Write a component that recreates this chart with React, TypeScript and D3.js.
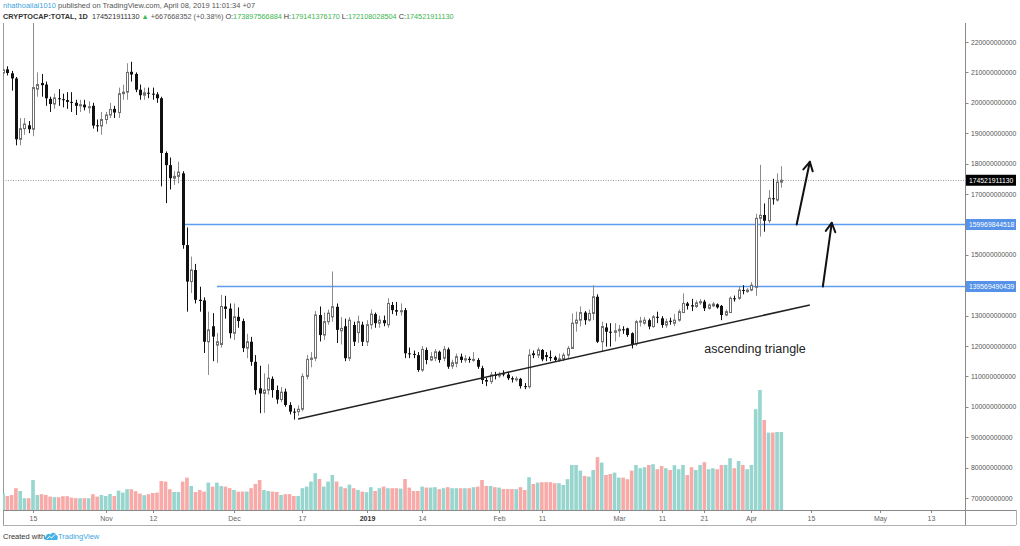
import React from "react";
import * as d3 from "d3";

const W = 1020;
const H = 546;
const FONT = "'Liberation Sans', Arial, sans-serif";

// ---- data (prices in billions USD, one candle per day starting 2018-10-08) ----
const firstDay = Date.UTC(2018, 9, 8);
const DAY = 86400000;

const open = [
  // Oct 8-31
  209.8, 211.0, 209.7, 208.0, 188.0, 191.5, 192.6, 191.3, 204.5, 206.5, 206.0, 201.3, 199.6, 201.5, 201.2, 200.9, 200.3, 200.0, 199.0, 199.4, 198.5, 199.0, 192.6, 192.4,
  // Nov
  194.5, 196.0, 198.0, 196.8, 203.0, 203.5, 210.2, 209.5, 204.3, 202.5, 203.3, 203.0, 202.8, 201.5, 183.5, 179.5, 175.2, 175.8, 176.8, 153.2, 141.2, 145.0, 135.2, 135.0, 121.4, 126.5, 120.3, 120.5, 133.0, 132.3,
  // Dec
  124.2, 129.6, 128.2, 119.3, 121.4, 114.8, 106.1, 104.4, 105.5, 109.2, 105.5, 102.4, 105.0, 100.6, 98.4, 98.4, 99.2, 110.0, 115.6, 116.0, 130.2, 123.6, 128.0, 129.6, 132.9, 125.0, 126.5, 116.0, 126.9, 124.4, 127.0,
  // Jan
  121.4, 127.0, 130.5, 127.5, 128.5, 127.0, 133.5, 131.8, 131.3, 131.8, 117.6, 117.4, 117.0, 112.1, 118.7, 115.4, 116.0, 118.1, 116.0, 118.9, 113.4, 114.3, 116.5, 115.4, 115.8, 115.4, 115.4, 112.7, 108.8, 108.3, 110.5,
  // Feb
  110.2, 111.0, 110.6, 109.4, 109.0, 109.2, 106.8, 106.6, 117.6, 117.0, 118.7, 117.0, 116.4, 116.3, 115.4, 115.8, 117.0, 119.2, 127.5, 128.5, 131.0, 128.5, 130.7, 136.2, 121.4, 126.1, 124.7, 124.5,
  // Mar
  125.0, 125.5, 125.8, 124.2, 120.7, 128.0, 127.5, 128.5, 126.4, 129.6, 129.1, 126.9, 128.3, 127.5, 128.5, 131.0, 134.0, 133.4, 133.0, 134.2, 134.6, 132.4, 133.2, 133.7, 133.2, 130.2, 131.0, 135.7, 135.7, 138.4, 137.9,
  // Apr 1-8
  138.4, 139.3, 162.0, 163.1, 161.2, 168.6, 168.0, 173.9,
];

const high = [
  211.3, 212.0, 210.5, 208.5, 195.0, 195.0, 194.0, 227.0, 210.0, 209.5, 207.0, 202.0, 203.0, 204.5, 203.0, 203.5, 203.5, 201.0, 201.0, 201.0, 200.5, 200.0, 194.5, 197.0,
  197.0, 200.0, 199.0, 205.0, 206.0, 213.0, 213.5, 210.0, 206.0, 205.0, 205.0, 205.0, 203.5, 202.0, 184.0, 182.0, 177.5, 180.6, 177.5, 159.0, 149.4, 147.0, 139.5, 136.0, 131.3, 130.8, 124.3, 136.8, 136.5, 134.0,
  134.0, 132.7, 129.0, 124.0, 123.0, 117.0, 113.5, 111.0, 114.0, 110.0, 107.0, 106.5, 106.0, 101.5, 99.5, 100.5, 111.0, 117.0, 118.0, 131.5, 133.0, 131.0, 132.0, 144.5, 134.0, 129.5, 129.0, 129.5, 128.0, 130.0, 128.0,
  128.5, 132.0, 131.0, 130.0, 130.0, 135.7, 134.5, 134.5, 134.0, 132.5, 119.5, 118.5, 118.0, 120.0, 119.5, 118.0, 119.0, 118.5, 120.0, 119.5, 115.5, 117.5, 117.5, 117.0, 116.5, 118.0, 116.0, 113.5, 109.5, 111.5, 111.5,
  111.5, 112.0, 111.5, 110.0, 110.0, 109.5, 107.8, 119.0, 118.5, 119.5, 119.0, 118.0, 118.5, 116.8, 117.5, 117.8, 120.0, 130.7, 131.3, 133.0, 131.5, 132.0, 140.0, 137.0, 128.0, 127.5, 127.5, 127.5,
  126.9, 126.5, 126.0, 124.5, 128.6, 129.6, 129.5, 129.0, 130.2, 131.3, 129.8, 129.0, 129.3, 130.5, 132.0, 137.3, 134.5, 135.5, 135.0, 135.5, 135.2, 134.0, 134.5, 134.0, 133.5, 132.0, 136.3, 136.6, 139.5, 140.0, 139.0,
  141.0, 163.5, 179.6, 166.9, 171.3, 175.0, 176.8, 179.14,
];

const low = [
  207.5, 209.0, 204.0, 186.0, 186.0, 189.5, 190.0, 189.0, 202.0, 202.0, 199.0, 197.0, 198.0, 199.0, 198.5, 198.0, 197.0, 196.0, 197.0, 197.5, 196.5, 191.5, 190.5, 189.5,
  193.0, 195.0, 195.0, 195.0, 201.0, 201.0, 207.0, 203.5, 201.0, 201.0, 201.5, 201.0, 200.0, 172.5, 167.0, 171.5, 173.0, 173.5, 152.0, 131.3, 137.4, 134.0, 131.3, 117.7, 110.5, 115.0, 114.4, 119.5, 129.0, 122.5,
  122.0, 126.0, 118.0, 116.0, 113.5, 104.0, 97.9, 98.0, 104.0, 103.0, 101.0, 101.5, 100.0, 97.5, 95.8, 97.0, 98.5, 109.0, 113.0, 115.0, 121.5, 122.0, 127.0, 128.0, 121.0, 120.5, 115.0, 115.0, 120.0, 121.0, 120.0,
  120.0, 125.5, 126.0, 126.0, 126.5, 126.0, 130.5, 130.0, 130.0, 116.0, 116.0, 116.0, 111.5, 111.5, 114.0, 115.0, 115.0, 114.5, 115.0, 112.5, 112.5, 113.0, 114.5, 114.5, 114.5, 114.8, 112.5, 107.5, 106.8, 107.5, 109.0,
  109.5, 110.0, 108.8, 108.0, 108.3, 106.0, 105.8, 106.0, 116.0, 116.0, 115.0, 115.0, 115.0, 115.0, 114.8, 115.0, 116.0, 119.0, 124.7, 126.4, 127.0, 128.0, 128.5, 121.0, 118.2, 119.8, 119.8, 121.5,
  123.0, 124.0, 123.0, 119.2, 120.0, 126.4, 127.0, 125.5, 126.0, 127.5, 126.0, 126.0, 127.0, 126.5, 128.0, 131.0, 132.0, 131.5, 132.5, 133.5, 131.5, 132.0, 132.8, 132.3, 128.5, 129.8, 131.0, 134.6, 135.2, 137.0, 137.5,
  138.0, 136.5, 156.0, 157.6, 160.4, 166.5, 167.5, 172.11,
];

const close = [
  210.8, 209.8, 208.0, 188.0, 191.5, 193.0, 191.3, 205.0, 206.0, 205.8, 201.5, 199.6, 201.6, 201.2, 200.9, 200.3, 200.0, 199.0, 199.4, 198.5, 198.7, 192.5, 192.4, 194.5,
  196.0, 197.8, 196.8, 203.0, 203.5, 210.0, 209.3, 204.3, 202.5, 203.3, 203.0, 202.7, 201.5, 183.5, 179.5, 175.2, 175.8, 177.2, 153.2, 141.2, 145.0, 135.2, 134.8, 121.4, 125.3, 123.1, 121.4, 133.0, 132.2, 124.2,
  129.6, 128.2, 119.3, 121.4, 114.8, 105.5, 104.4, 105.5, 109.4, 105.5, 102.4, 104.8, 100.6, 98.4, 98.1, 99.2, 110.0, 115.6, 116.0, 130.2, 123.6, 128.0, 130.8, 132.9, 125.3, 125.8, 116.0, 128.5, 121.4, 128.0, 121.4,
  127.0, 130.5, 127.5, 128.5, 127.5, 134.0, 131.8, 131.3, 131.6, 117.6, 117.4, 117.3, 112.1, 118.9, 115.4, 116.5, 118.1, 115.4, 118.9, 113.2, 114.5, 116.5, 115.4, 115.8, 115.4, 115.6, 113.2, 108.8, 108.3, 110.5, 110.2,
  110.5, 110.6, 109.4, 109.0, 109.2, 106.8, 106.6, 117.0, 117.0, 118.7, 115.6, 116.4, 116.0, 115.4, 115.8, 117.0, 119.2, 127.5, 128.5, 131.0, 128.5, 130.7, 136.2, 121.4, 126.4, 124.7, 124.5, 125.0,
  125.5, 125.2, 123.6, 120.3, 128.0, 128.2, 128.5, 126.4, 129.6, 129.4, 126.9, 128.0, 128.0, 128.5, 131.3, 134.0, 133.2, 133.0, 134.2, 134.6, 132.4, 133.5, 133.8, 132.7, 130.2, 131.3, 135.7, 135.6, 138.4, 138.2, 138.4,
  140.0, 162.0, 163.0, 161.2, 168.6, 168.3, 173.9, 174.52,
];

// volume in billions USD
const volume = [
  8.4, 7.0, 7.5, 10.9, 9.5, 5.9, 5.9, 15.0, 7.5, 7.9, 7.5, 6.7, 6.4, 6.4, 6.9, 6.9, 6.2, 5.9, 5.9, 5.9, 5.9, 7.9, 6.7, 7.5,
  7.0, 8.0, 7.0, 9.7, 8.7, 10.4, 10.4, 9.4, 8.2, 7.4, 7.9, 8.5, 8.7, 14.5, 14.2, 10.4, 9.0, 9.0, 14.2, 16.2, 12.0, 9.0, 10.0, 9.2, 13.7, 11.7, 13.7, 12.0, 11.7, 10.9,
  10.0, 9.2, 9.2, 9.2, 10.9, 13.0, 15.0, 10.0, 9.5, 9.2, 9.0, 7.5, 7.9, 7.9, 7.0, 7.0, 10.9, 11.7, 14.2, 18.4, 15.5, 11.7, 14.2, 17.5, 14.2, 11.7, 10.9, 12.7, 10.9, 10.0, 9.2,
  8.9, 11.4, 9.5, 10.9, 11.7, 10.9, 10.9, 10.9, 10.7, 15.5, 11.2, 9.5, 9.5, 11.7, 11.2, 11.2, 11.4, 10.4, 10.9, 11.4, 10.9, 10.9, 10.9, 10.9, 10.9, 11.4, 11.7, 15.0, 12.0, 12.0, 11.4,
  11.2, 10.5, 10.5, 10.5, 10.4, 11.4, 10.0, 16.4, 13.0, 13.7, 13.9, 13.9, 13.9, 13.4, 13.4, 12.5, 15.4, 22.5, 22.5, 19.7, 17.0, 16.7, 20.0, 26.4, 23.7, 17.5, 18.0, 18.7,
  16.2, 16.2, 15.4, 19.7, 22.5, 20.9, 21.4, 22.5, 22.9, 20.4, 22.0, 20.9, 20.0, 22.4, 20.4, 22.5, 17.5, 21.4, 20.0, 22.5, 23.9, 20.4, 20.9, 20.4, 22.5, 22.5, 25.9, 20.9, 24.5, 22.5, 20.4,
  22.5, 50.4, 60.0, 45.0, 38.7, 38.7, 39.0, 39.0,
];

// time axis
const timeTickDates = [
  Date.UTC(2018, 9, 15), Date.UTC(2018, 10, 1), Date.UTC(2018, 10, 12), Date.UTC(2018, 11, 1),
  Date.UTC(2018, 11, 17), Date.UTC(2019, 0, 1), Date.UTC(2019, 0, 14), Date.UTC(2019, 1, 1),
  Date.UTC(2019, 1, 11), Date.UTC(2019, 2, 1), Date.UTC(2019, 2, 11), Date.UTC(2019, 2, 21),
  Date.UTC(2019, 3, 1), Date.UTC(2019, 3, 15), Date.UTC(2019, 4, 1), Date.UTC(2019, 4, 13),
];
const timeTickLabels = ["15", "Nov", "12", "Dec", "17", "2019", "14", "Feb", "11", "Mar", "11", "21", "Apr", "15", "May", "13"];

// price axis (billions)
const priceTicks = [220, 210, 200, 190, 180, 170, 150, 130, 120, 110, 100, 90, 80, 70];

// horizontal levels
const levelPrices = [159.969844518, 139.569490439];
const levelStarts = [Date.UTC(2018, 10, 19), Date.UTC(2018, 10, 27)];
const lastPrice = 174.52191113;

// ascending triangle support line
const trendDates = [Date.UTC(2018, 11, 16), Date.UTC(2019, 3, 14, 16)];
const trendPrices = [96.0, 133.5];

// arrows
const arrowFromDates = [Date.UTC(2019, 3, 11, 14), Date.UTC(2019, 3, 17, 17)];
const arrowFromPrices = [159.97, 139.57];
const arrowToDates = [Date.UTC(2019, 3, 14, 16), Date.UTC(2019, 3, 19, 19)];
const arrowToPrices = [180.6, 160.5];

const noteText = "ascending triangle";
const noteDate = Date.UTC(2019, 2, 21);
const notePrice = 117.6;

const UP_VOL = "#97d5ce";
const DOWN_VOL = "#f7aaa8";

export default function App() {
  const dates = close.map((_, i) => new Date(firstDay + i * DAY));
  const x = d3
    .scaleUtc()
    .domain([new Date(Date.UTC(2018, 9, 15)), new Date(Date.UTC(2019, 4, 13))])
    .range([33, 931]);
  const y = d3.scaleLinear().domain([70, 220]).range([498, 42]);
  const yv = d3.scaleLinear().domain([0, 65]).range([510, 380]);

  const L = 3, R = 965, T = 23, B = 510, BB = 525;

  const fmt = (v: number) => String(Math.round(v * 1e9));

  const arrowHead = (x1: number, y1: number, x2: number, y2: number) => {
    const a = Math.atan2(y2 - y1, x2 - x1);
    const len = 10, ang = 0.5;
    const w1 = [x2 - len * Math.cos(a - ang), y2 - len * Math.sin(a - ang)];
    const w2 = [x2 - len * Math.cos(a + ang), y2 - len * Math.sin(a + ang)];
    return `M${w1[0]},${w1[1]}L${x2},${y2}L${w2[0]},${w2[1]}`;
  };

  const trendLine = d3
    .line<number>()
    .x((_, i) => x(new Date(trendDates[i])))
    .y((p) => y(p))(trendPrices);

  return (
    <svg
      width={W}
      height={H}
      style={{ position: "absolute", left: 0, top: 0, background: "#fff" }}
      fontFamily={FONT}
    >
      <defs>
        <clipPath id="plot">
          <rect x={L} y={T} width={R - L} height={B - T} />
        </clipPath>
      </defs>
      <rect x={0} y={0} width={W} height={H} fill="#fff" />

      {/* header */}
      <text x={3} y={8} fontSize={7.5}>
        <tspan fill="#3fa3dd">nhathoailai1010</tspan>
        <tspan fill="#555"> published on TradingView.com, April 08, 2019 11:01:34 +07</tspan>
      </text>
      <text x={3} y={18.5} fontSize={7.3} fill="#333">
        <tspan fontWeight="bold">CRYPTOCAP:TOTAL, 1D</tspan>
        <tspan dx={4}>174521911130</tspan>
        <tspan fill="#3db550"> ▲</tspan>
        <tspan fill="#555"> +667668352 (+0.38%)</tspan>
        <tspan dx={2}>O:</tspan>
        <tspan fill="#3db550">173897566884</tspan>
        <tspan dx={2}>H:</tspan>
        <tspan fill="#3db550">179141376170</tspan>
        <tspan dx={2}>L:</tspan>
        <tspan fill="#3db550">172108028504</tspan>
        <tspan dx={2}>C:</tspan>
        <tspan fill="#3db550">174521911130</tspan>
      </text>

      {/* frame */}
      <line x1={L + 0.5} x2={L + 0.5} y1={T} y2={BB} stroke="#9a9a9a" />
      <line x1={R + 0.5} x2={R + 0.5} y1={T} y2={BB} stroke="#8a8a8a" />
      <line x1={L} x2={1016} y1={B + 0.5} y2={B + 0.5} stroke="#8a8a8a" />
      <line x1={L} x2={1016} y1={BB + 0.5} y2={BB + 0.5} stroke="#b0b0b0" />
      <line x1={1016.5} x2={1016.5} y1={B} y2={BB} stroke="#b0b0b0" />

      <g clipPath="url(#plot)">
        {/* volume */}
        {dates.map((d, i) => (
          <rect
            key={"v" + i}
            x={x(d) - 1.8}
            y={yv(volume[i])}
            width={3.6}
            height={yv(0) - yv(volume[i])}
            fill={close[i] >= open[i] ? UP_VOL : DOWN_VOL}
          />
        ))}

        {/* last price dotted line */}
        <line
          x1={L}
          x2={R}
          y1={Math.round(y(lastPrice)) + 0.5}
          y2={Math.round(y(lastPrice)) + 0.5}
          stroke="#9a9a9a"
          strokeDasharray="1,1.5"
        />

        {/* levels */}
        {levelPrices.map((p, i) => (
          <line
            key={"lv" + i}
            x1={x(new Date(levelStarts[i]))}
            x2={R}
            y1={y(p)}
            y2={y(p)}
            stroke="#5b9cf0"
            strokeWidth={1.6}
          />
        ))}

        {/* candles */}
        {dates.map((d, i) => {
          const cx = Math.round(x(d));
          const up = close[i] >= open[i];
          const yo = y(open[i]);
          const yc = y(close[i]);
          const top = Math.min(yo, yc);
          const h = Math.max(1, Math.abs(yo - yc));
          return (
            <g key={"c" + i}>
              <line
                x1={cx + 0.5}
                x2={cx + 0.5}
                y1={y(high[i])}
                y2={y(low[i])}
                stroke={up ? "#8c8c8c" : "#111"}
                strokeWidth={1}
              />
              {up ? (
                <rect x={cx - 0.5} y={top} width={2} height={h} fill="#fff" stroke="#6e6e6e" strokeWidth={1} />
              ) : (
                <rect x={cx - 1} y={top} width={3} height={h} fill="#111" />
              )}
            </g>
          );
        })}

        {/* trend line */}
        <path d={trendLine || ""} stroke="#222" strokeWidth={1.5} fill="none" />

        {/* arrows */}
        {arrowFromDates.map((d0, i) => {
          const x1 = x(new Date(d0));
          const y1 = y(arrowFromPrices[i]);
          const x2 = x(new Date(arrowToDates[i]));
          const y2 = y(arrowToPrices[i]);
          return (
            <g key={"a" + i} stroke="#111" strokeWidth={2} fill="none" strokeLinecap="round" strokeLinejoin="round">
              <line x1={x1} y1={y1} x2={x2} y2={y2} />
              <path d={arrowHead(x1, y1, x2, y2)} />
            </g>
          );
        })}

        <text x={x(new Date(noteDate))} y={y(notePrice)} fontSize={12.5} fill="#222">
          {noteText}
        </text>
      </g>

      {/* price axis */}
      {priceTicks.map((p) => (
        <g key={"p" + p}>
          <line x1={R} x2={R + 3.5} y1={Math.round(y(p)) + 0.5} y2={Math.round(y(p)) + 0.5} stroke="#888" />
          <text x={R + 6} y={y(p) + 2.5} fontSize={6.8} fill="#555">
            {fmt(p)}
          </text>
        </g>
      ))}

      {/* price tags */}
      {[lastPrice, ...levelPrices].map((p, i) => (
        <g key={"tag" + i}>
          <rect x={R + 1} y={y(p) - 5.5} width={50} height={11} fill={i === 0 ? "#000" : "#5592e8"} />
          <text x={R + 4} y={y(p) + 2.5} fontSize={6.8} fill="#fff">
            {fmt(p)}
          </text>
        </g>
      ))}

      {/* time axis */}
      {timeTickDates.map((t, i) => {
        const tx = Math.round(x(new Date(t))) + 0.5;
        const bold = timeTickLabels[i] === "2019";
        return (
          <g key={"t" + i}>
            <line x1={tx} x2={tx} y1={B} y2={B + 3} stroke="#888" />
            <text
              x={tx}
              y={521}
              fontSize={7}
              textAnchor="middle"
              fill={bold ? "#333" : "#666"}
              fontWeight={bold ? "bold" : "normal"}
            >
              {timeTickLabels[i]}
            </text>
          </g>
        );
      })}

      {/* footer */}
      <text x={3} y={539} fontSize={7.5} fill="#333">
        Created with
      </text>
      <g transform="translate(44,531)">
        <path
          d="M2,9 C0,9 0,6 2,5.5 C2,3 5,2 6.5,3.5 C7.5,1 11.5,1 12,4 C14,4 14.5,7 13,9 Z"
          fill="#45b2e6"
        />
        <path d="M3,8 L5.5,5.5 L7.5,7 L11,3.5" stroke="#fff" strokeWidth={1} fill="none" />
      </g>
      <text x={58} y={539} fontSize={7.5} fill="#3aa6de">
        TradingView
      </text>
    </svg>
  );
}
